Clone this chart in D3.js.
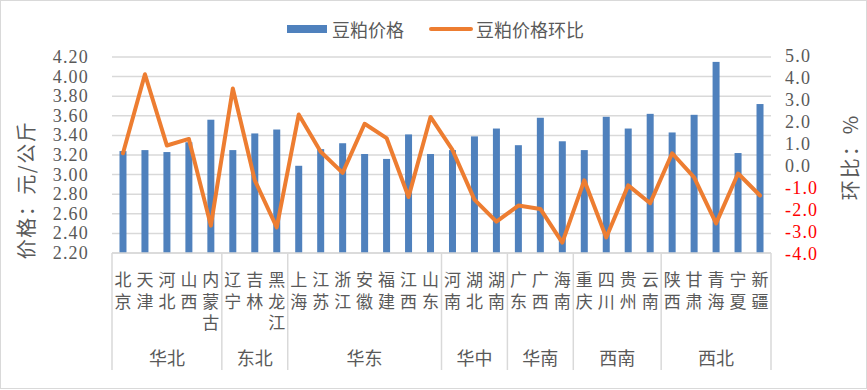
<!DOCTYPE html>
<html><head><meta charset="utf-8">
<script src="https://cdn.jsdelivr.net/npm/d3@7"></script>
<style>
html,body{margin:0;padding:0;background:#fff;}
svg text{font-family:"Noto Sans CJK SC","Liberation Serif",serif;fill:#595959;}
svg text.num{font-family:"Liberation Serif","DejaVu Serif",serif;}
svg text.vert{writing-mode:vertical-rl;text-orientation:upright;}
</style></head>
<body><svg id="c" width="867" height="390"></svg>
<script>
const provinces = ["北京","天津","河北","山西","内蒙古","辽宁","吉林","黑龙江","上海","江苏","浙江","安徽","福建","江西","山东","河南","湖北","湖南","广东","广西","海南","重庆","四川","贵州","云南","陕西","甘肃","青海","宁夏","新疆"];
const regions = [["华北",5],["东北",3],["华东",7],["华中",3],["华南",3],["西南",4],["西北",5]];
const price = [3.24,3.25,3.23,3.33,3.56,3.25,3.42,3.46,3.09,3.26,3.32,3.21,3.16,3.41,3.21,3.25,3.39,3.47,3.30,3.58,3.34,3.25,3.59,3.47,3.62,3.43,3.61,4.15,3.22,3.72];
const mom = [0.58,4.17,0.93,1.23,-2.71,3.52,-0.65,-2.79,2.34,0.65,-0.31,1.92,1.27,-1.41,2.23,0.73,-1.53,-2.53,-1.80,-1.95,-3.48,-0.65,-3.25,-0.88,-1.69,0.58,-0.52,-2.61,-0.34,-1.34];
const leftTicks = [2.2,2.4,2.6,2.8,3.0,3.2,3.4,3.6,3.8,4.0,4.2];
const rightTicks = [5,4,3,2,1,0,-1,-2,-3,-4];
const legendNames = ["豆粕价格","豆粕价格环比"];

const svg = d3.select("#c");
const L = 112, R = 771, T = 57, B = 253;
const blue = "#4F81BD", orange = "#ED7D31", grid = "#D9D9D9";

svg.append("rect").attr("x",0.5).attr("y",0.5).attr("width",866).attr("height",388)
  .attr("fill","#fff").attr("stroke","#D9D9D9");

const x = d3.scaleBand().domain(provinces).range([L,R]).paddingInner(0).paddingOuter(0);
const yL = d3.scaleLinear().domain([2.2,4.2]).range([B,T]);
const yR = d3.scaleLinear().domain([-4,5]).range([B+1,T-1]);

// gridlines
svg.append("g").selectAll("line").data(leftTicks).join("line")
  .attr("x1",L).attr("x2",R).attr("y1",d=>yL(d)).attr("y2",d=>yL(d))
  .attr("stroke",grid).attr("stroke-width",1.5);

// left axis labels
svg.append("g").selectAll("text").data(leftTicks).join("text").attr("class","num")
  .attr("x",89).attr("y",d=>yL(d)).attr("text-anchor","end").attr("dominant-baseline","central")
  .attr("font-size",18).attr("letter-spacing",1.2).text(d=>d3.format(".2f")(d));

// right axis labels
svg.append("g").selectAll("text").data(rightTicks).join("text").attr("class","num")
  .attr("x",785).attr("y",d=>yR(d)).attr("text-anchor","start").attr("dominant-baseline","central")
  .attr("font-size",18).attr("letter-spacing",1.2).style("fill",d=>d<0?"#FF0000":"#595959").text(d=>d3.format(".1f")(d).replace("−","-"));

// bars
const bw = 7;
svg.append("g").selectAll("rect").data(price).join("rect")
  .attr("x",(d,i)=>x(provinces[i])+x.bandwidth()/2-bw/2)
  .attr("width",bw)
  .attr("y",d=>yL(d)).attr("height",d=>B-yL(d))
  .attr("fill",blue);

// line
const line = d3.line().x((d,i)=>x(provinces[i])+x.bandwidth()/2).y(d=>yR(d));
svg.append("path").datum(mom).attr("d",line).attr("fill","none")
  .attr("stroke",orange).attr("stroke-width",4).attr("stroke-linejoin","round").attr("stroke-linecap","round");

// category axis line
svg.append("line").attr("x1",L).attr("x2",R).attr("y1",B).attr("y2",B).attr("stroke",grid).attr("stroke-width",1.5);

// province labels (vertical writing mode)
svg.append("g").selectAll("text").data(provinces).join("text").attr("class","vert")
  .attr("font-size",17).attr("letter-spacing",4.5).attr("text-anchor","start")
  .attr("x",p=>x(p)+x.bandwidth()/2).attr("y",271.5)
  .text(p=>p);

// region separators and labels
let idx = 0;
const bounds = [0];
regions.forEach(r=>{ idx += r[1]; bounds.push(idx); });
svg.append("g").selectAll("line").data(bounds).join("line")
  .attr("x1",d=>L + d*x.step()).attr("x2",d=>L + d*x.step())
  .attr("y1",B).attr("y2",370).attr("stroke",grid).attr("stroke-width",1.5);
svg.append("g").selectAll("text").data(regions).join("text")
  .attr("x",(d,i)=>L + (bounds[i]+bounds[i+1])/2*x.step())
  .attr("y",357).attr("text-anchor","middle").attr("dominant-baseline","central")
  .attr("font-size",18).text(d=>d[0]);

// axis titles
svg.append("text").attr("transform","translate(25,190) rotate(-90)")
  .attr("text-anchor","middle").attr("dominant-baseline","central").attr("font-size",20).attr("letter-spacing",1.5).text("价格：元/公斤");
svg.append("text").attr("transform","translate(849,157) rotate(-90)")
  .attr("text-anchor","middle").attr("dominant-baseline","central").attr("font-size",20).attr("letter-spacing",2).text("环比：%");

// legend
const lg = svg.append("g");
lg.append("rect").attr("x",287).attr("y",25).attr("width",40).attr("height",8).attr("fill",blue);
lg.append("text").attr("x",332).attr("y",29).attr("dominant-baseline","central").attr("font-size",18).text(legendNames[0]);
lg.append("line").attr("x1",431).attr("x2",471).attr("y1",29).attr("y2",29).attr("stroke",orange).attr("stroke-width",4).attr("stroke-linecap","round");
lg.append("text").attr("x",476).attr("y",29).attr("dominant-baseline","central").attr("font-size",18).text(legendNames[1]);
</script></body></html>
